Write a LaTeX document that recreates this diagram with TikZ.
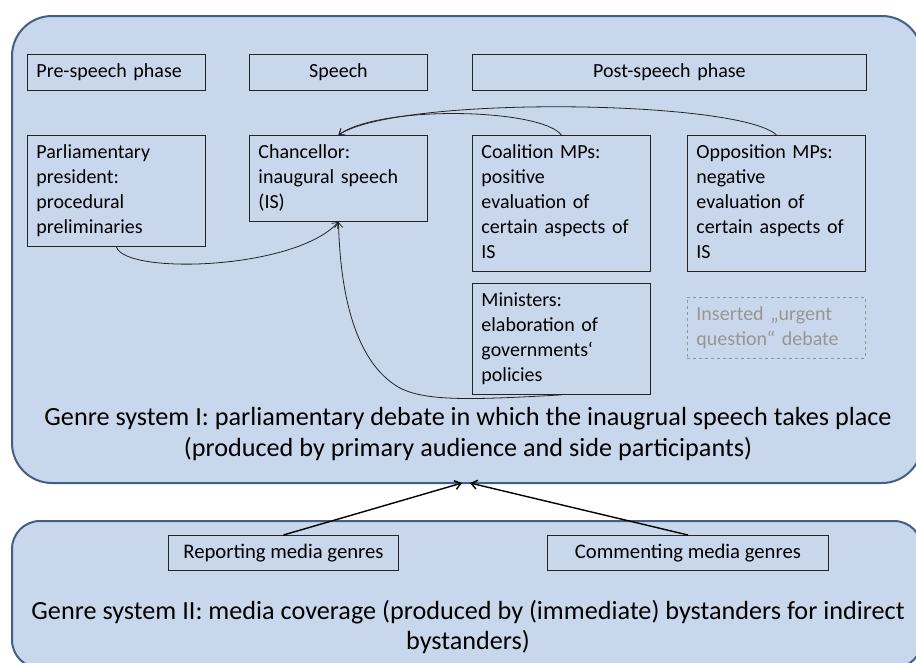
\documentclass[tikz,border=0pt]{standalone}
\usepackage{fontspec}
\setmainfont{Carlito}
\usetikzlibrary{arrows.meta}
\definecolor{sysfill}{RGB}{201,215,236}
\definecolor{sysline}{RGB}{66,96,135}
\definecolor{boxline}{RGB}{35,35,40}
\definecolor{ghost}{RGB}{150,150,150}
\tikzset{
  genrebox/.style={draw=boxline, line width=0.9pt, anchor=north west,
    inner xsep=9pt, inner ysep=5.5pt, text width=160pt, align=left,
    font=\fontsize{20}{25}\selectfont,
    execute at begin node=\strut, execute at end node=\strut},
  phasebox/.style={genrebox, minimum height=34pt},
  mediabox/.style={draw=boxline, line width=0.9pt, anchor=north west,
    minimum height=35pt, align=center, font=\fontsize{20.7}{24}\selectfont},
  systext/.style={align=center, font=\fontsize{26.2}{30.5}\selectfont},
  system/.style={draw=sysline, fill=sysfill, line width=2pt}
}
\begin{document}
\begin{tikzpicture}[x=1pt,y=-1pt]
      \useasboundingbox (0,0) rectangle (916,662);
      \clip (0,0) rectangle (916,662);
      \draw[system, rounded corners=40pt] (12,16) rectangle (922,483);
      \draw[system, rounded corners=28pt] (12,521) rectangle (922,668);
      \node[phasebox] (pre) at (27,54) {Pre-speech phase};
      \node[phasebox, align=center] (speech) at (249,54) {Speech};
      \node[phasebox, text width=376pt, align=center] (post) at (472,54) {Post-speech phase};
      \node[genrebox] (parl) at (27,135) {Parliamentary\\president:\\procedural\\preliminaries};
      \node[genrebox] (chanc) at (249,135) {Chancellor:\\inaugural speech\\(IS)};
      \node[genrebox] (coal) at (472,135) {Coalition MPs:\\positive\\evaluation of\\certain aspects of\\IS};
      \node[genrebox] (opp) at (687,135) {Opposition MPs:\\negative\\evaluation of\\certain aspects of\\IS};
      \node[genrebox] (mini) at (472,283) {Ministers:\\elaboration of\\governments‘\\policies};
      \node[genrebox, draw=ghost, dashed, text=ghost] (urgent) at (687,297) {Inserted „urgent\\question“ debate};
      \node[systext] (sysI) at (468,434) {Genre system I: parliamentary debate in which the inaugrual speech takes place\\(produced by primary audience and side participants)};
      \node[mediabox, minimum width=230pt] (report) at (168,535) {Reporting media genres};
      \node[mediabox, minimum width=281pt] (comment) at (547,535) {Commenting media genres};
      \node[systext] (sysII) at (468,627) {Genre system II: media coverage (produced by (immediate) bystanders for indirect\\bystanders)};
      \coordinate (inL) at (462,483);
      \coordinate (inR) at (470,483);
      \begin{scope}[->, >={Straight Barb[length=5pt, width=8pt]}, draw=boxline, line width=0.8pt]
        \draw (coal.north) .. controls (540,108) and (380,105) .. (chanc.north);
        \draw (opp.north) .. controls (740,100) and (400,95) .. (chanc.north);
        \draw (parl.south) .. controls (125,275) and (295,270) .. (chanc.south);
        \draw (mini.south) .. controls (470,400) and (420,402) .. (395,385)
          .. controls (350,355) and (340,280) .. (chanc.south);
      \end{scope}
      \begin{scope}[->, >={Straight Barb[length=6pt, width=9pt]}, line width=1.4pt]
        \draw (report.north) -- (inL);
        \draw (comment.north) -- (inR);
      \end{scope}
    \end{tikzpicture}
\end{document}
